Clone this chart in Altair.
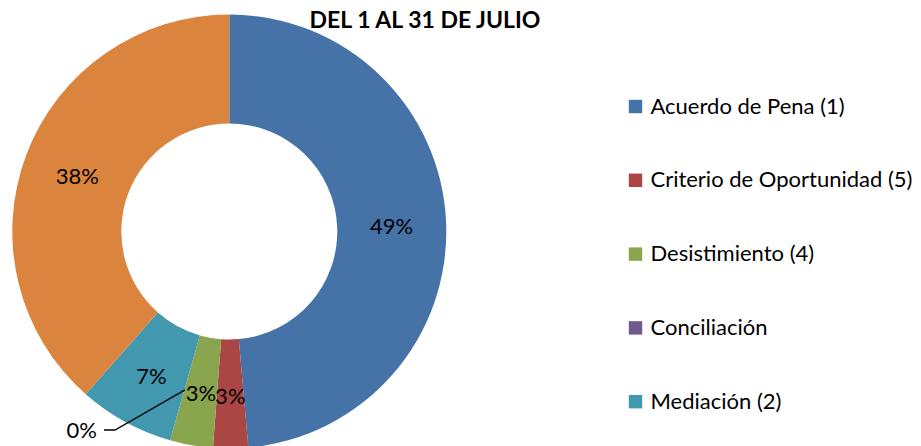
import math
import altair as alt
import pandas as pd

categories = ["Acuerdo de Pena (1)", "Criterio de Oportunidad (5)", "Desistimiento (4)",
              "Conciliación", "Mediación (2)", "Otros (3)"]
values = [48.6, 2.6, 3.2, 0.0, 7.1, 38.5]
labels = ["49%", "3%", "3%", "0%", "7%", "38%"]
colors = ["#4572A7", "#AA4643", "#89A54E", "#71588F", "#4198AF", "#DB843D"]
legend_shown = categories[:5]
title_text = "DEL 1 AL 31 DE JULIO"

W, H = 905, 438
CX, CY = 221.3, 223.5
R_OUT, R_IN = 217, 108
R_LAB = (R_OUT + R_IN) / 2
FONT = "Lato"

df = pd.DataFrame({"cat": categories, "val": values, "label": labels,
                   "order": list(range(len(categories)))})

color_enc = alt.Color(
    "cat:N",
    scale=alt.Scale(domain=categories, range=colors),
    sort=categories,
    legend=alt.Legend(
        orient="none", legendX=616.5, legendY=87.5, values=legend_shown, title=None,
        symbolType="square", symbolSize=180, symbolStrokeWidth=0,
        labelFontSize=22, labelFont=FONT, labelColor="#000000", labelLimit=400,
        rowPadding=51.8, labelOffset=4, padding=0,
    ),
)

base = alt.Chart(df).encode(
    theta=alt.Theta("val:Q", stack=True),
    order=alt.Order("order:Q"),
)

arcs = base.mark_arc(outerRadius=R_OUT, innerRadius=R_IN).encode(
    color=color_enc, x=alt.value(CX), y=alt.value(CY)
)

ring_labels = base.transform_filter(alt.datum.val > 0).mark_text(
    radius=R_LAB, fontSize=22, font=FONT, color="#000000", align="center",
    baseline="middle", dy=3
).encode(text="label:N", x=alt.value(CX), y=alt.value(CY))

# leader line for the zero slice
idx0 = categories.index("Conciliación")
total = sum(values)
ang = 2 * math.pi * (sum(values[:idx0]) + values[idx0] / 2) / total
p0 = (CX + R_LAB * math.sin(ang), CY - R_LAB * math.cos(ang) + 2)
leader = pd.DataFrame({"x": [p0[0], 107, 96], "y": [p0[1], 422, 422], "o": [0, 1, 2]})
xs = alt.Scale(domain=[0, W], nice=False, zero=False)
ys = alt.Scale(domain=[0, H], nice=False, zero=False, reverse=True)
leader_line = alt.Chart(leader).mark_line(color="#000000", strokeWidth=1.3).encode(
    x=alt.X("x:Q", scale=xs, axis=None), y=alt.Y("y:Q", scale=ys, axis=None), order="o:Q"
)
zero_df = pd.DataFrame({"x": [89], "y": [422], "t": [labels[idx0]]})
zero_label = alt.Chart(zero_df).mark_text(
    fontSize=22, font=FONT, color="#000000", align="right", baseline="middle", dy=1
).encode(x=alt.X("x:Q", scale=xs, axis=None), y=alt.Y("y:Q", scale=ys, axis=None), text="t:N")

title_df = pd.DataFrame({"x": [417], "y": [20.3], "t": [title_text]})
title = alt.Chart(title_df).mark_text(
    fontSize=23, font=FONT, fontWeight="bold", color="#000000", align="center",
    baseline="alphabetic"
).encode(x=alt.X("x:Q", scale=xs, axis=None), y=alt.Y("y:Q", scale=ys, axis=None), text="t:N")

chart = alt.layer(arcs, ring_labels, leader_line, zero_label, title).properties(
    width=W, height=H, padding=0, autosize=alt.AutoSizeParams(type="none"), background="white"
).configure_view(stroke=None)

chart.save("out.html", embed_options={"renderer": "svg", "actions": False})
